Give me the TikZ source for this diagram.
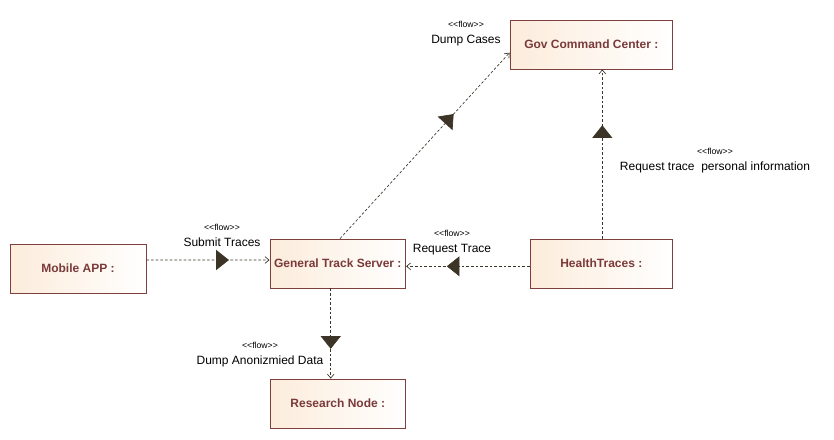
\documentclass[tikz,border=0pt]{standalone}
\usepackage{fontspec}
\setmainfont{Liberation Sans}
\usetikzlibrary{arrows.meta,decorations.markings}
\definecolor{boxline}{HTML}{7F3F3F}
\definecolor{boxtext}{HTML}{7A3A3A}
\definecolor{boxfill}{HTML}{FCECDB}
\definecolor{flowline}{HTML}{3C3426}
\newcommand{\flowtag}{{\fontsize{6.5}{8}\selectfont <\kern0pt<flow>\kern0pt>}}
\begin{document}
\begin{tikzpicture}[x=0.75pt, y=-0.75pt,
    part/.style = {draw=boxline, line width=0.6pt, left color=boxfill, right color=white,
        text=boxtext, font=\fontsize{9}{11}\selectfont\bfseries, inner sep=0pt, minimum height=36.75pt},
    flow/.style = {draw=flowline, line width=0.5pt, dash pattern=on 2pt off 1.5pt,
        -{Straight Barb[length=3pt,width=5pt]}, postaction={decorate},
        decoration={markings, mark=at position 0.67 with {\arrow[flowline]{Triangle[length=9.5pt,width=15pt]}}}},
    flowlabel/.style = {align=center, font=\fontsize{9}{12}\selectfont, inner sep=0pt}]
        \useasboundingbox (0, 0) rectangle (834, 439);
        \node [part, minimum width=102pt] (mobile) at (78, 268.5) {Mobile APP :};
        \node [part, minimum width=101.8pt] (server) at (337.8, 263.5) {General Track Server :};
        \node [part, minimum width=122pt] (gov) at (591.3, 44.5) {Gov Command Center :};
        \node [part, minimum width=107pt] (health) at (601.3, 263.5) {HealthTraces :};
        \node [part, minimum width=101.8pt] (research) at (337.8, 403.5) {Research Node :};
        \draw [flow] ([yshift=6.4pt]mobile.east) -- ([yshift=2.6pt]server.west);
        \draw [flow] ([yshift=-2.1pt]health.west) -- ([yshift=-2.1pt]server.east);
        \draw [flow] ([xshift=-5.3pt]server.south) -- ([xshift=-5.3pt]research.north);
        \draw [flow] ([xshift=0.75pt]health.north) -- ([xshift=0.75pt]health.north |- gov.south);
        \draw [flow] ([xshift=1.65pt]server.north) -- ([yshift=-6.15pt]gov.west);
        \node [flowlabel] (submitlbl) at (222, 235) {\flowtag\\Submit Traces};
        \node [flowlabel] (requestlbl) at (452, 242.7) {\flowtag\\Request Trace};
        \node [flowlabel] (anonlbl) at (260, 354.7) {\flowtag\\Dump Anonizmied Data};
        \node [flowlabel] (personlbl) at (715, 160.7) {\flowtag\\Request trace~ personal information};
        \node [flowlabel] (caseslbl) at (466, 34) {\flowtag\\Dump Cases};
    \end{tikzpicture}
\end{document}
